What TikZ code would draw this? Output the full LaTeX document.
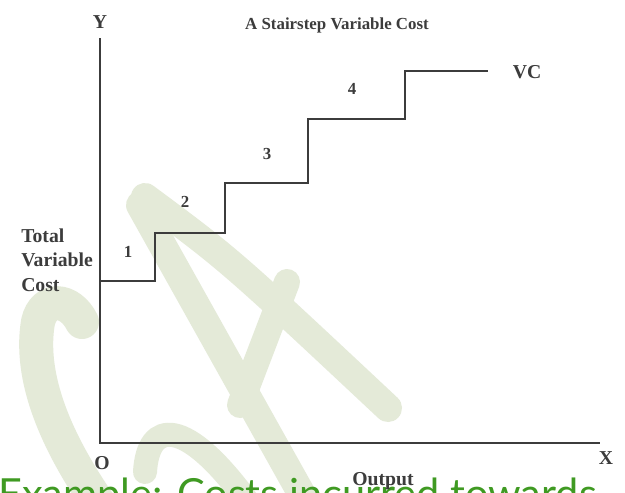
\documentclass[tikz,border=0pt]{standalone}
\usepackage{fontspec}
\setmainfont{Liberation Serif}
\newfontfamily\handfont{Lato}
\definecolor{inkgray}{HTML}{3C3C3C}
\definecolor{markgreen}{HTML}{E4EAD8}
\definecolor{notegreen}{HTML}{3F9A22}

\begin{document}
\begin{tikzpicture}[x=0.025cm, y=-0.025cm,
		lbl/.style={text=inkgray, inner sep=0pt, font=\bfseries\fontsize{14}{18}\selectfont},
		num/.style={text=inkgray, inner sep=0pt, font=\bfseries\fontsize{12}{14}\selectfont},
		wm/.style={draw=markgreen, line cap=round, line width=#1}]
		%%%%% START %%%%%
		
		\useasboundingbox[fill=white] (0, 0) rectangle (625, 493);
		
		% faint logo behind the chart
		\draw[wm=8.5mm] (82, 322) .. controls (70, 298) and (44, 296) .. (38, 322) .. controls (30, 370) and (48, 430) .. (100, 505);
		\draw[wm=7mm] (140, 205) -- (305, 500);
		\draw[wm=7mm] (145, 197) .. controls (230, 260) .. (388, 408);
		\draw[wm=6.5mm] (287, 282) -- (240, 405);
		\draw[wm=6mm] (145, 472) .. controls (148, 420) and (185, 415) .. (250, 505);
		
		\node[anchor=base west, inner sep=0pt, text=notegreen, font=\handfont\fontsize{29.5}{34}\selectfont] (note) at (-2, 508) {Example: Costs incurred towards};
		
		% axes
		\coordinate (origin) at (100, 443);
		\coordinate (ytop) at (100, 38);
		\coordinate (xend) at (600, 443);
		\draw[line width=1.4pt, color=inkgray] (ytop) -- (origin) -- (xend);
		
		% stairstep cost line
		\draw[line width=2.1pt, color=inkgray] (100, 281) -- (155, 281) -- (155, 233) -- (225, 233) -- (225, 183) -- (308, 183) -- (308, 119) -- (405, 119) -- (405, 71) -- (488, 71);
		
		\node[lbl, font=\bfseries\fontsize{12}{14}\selectfont] (title) at (337, 25) {A Stairstep Variable Cost};
		\node[lbl] (ylbl) at (100, 22) {Y};
		\node[lbl] (xlbl) at (606, 458) {X};
		\node[lbl] (olbl) at (102, 463) {O};
		\node[lbl] (outlbl) at (383, 481) {Output};
		\node[lbl] (vclbl) at (527, 72) {VC};
		\node[lbl, anchor=west, align=left, font=\bfseries\fontsize{14}{17.5}\selectfont] (tvclbl) at (21, 260) {Total\\Variable\\Cost};
		
		\node[num] (s1) at (128, 252) {1};
		\node[num] (s2) at (185, 202) {2};
		\node[num] (s3) at (267, 154) {3};
		\node[num] (s4) at (352, 89) {4};
		
		%%%%% END %%%%%
	\end{tikzpicture}
\end{document}
